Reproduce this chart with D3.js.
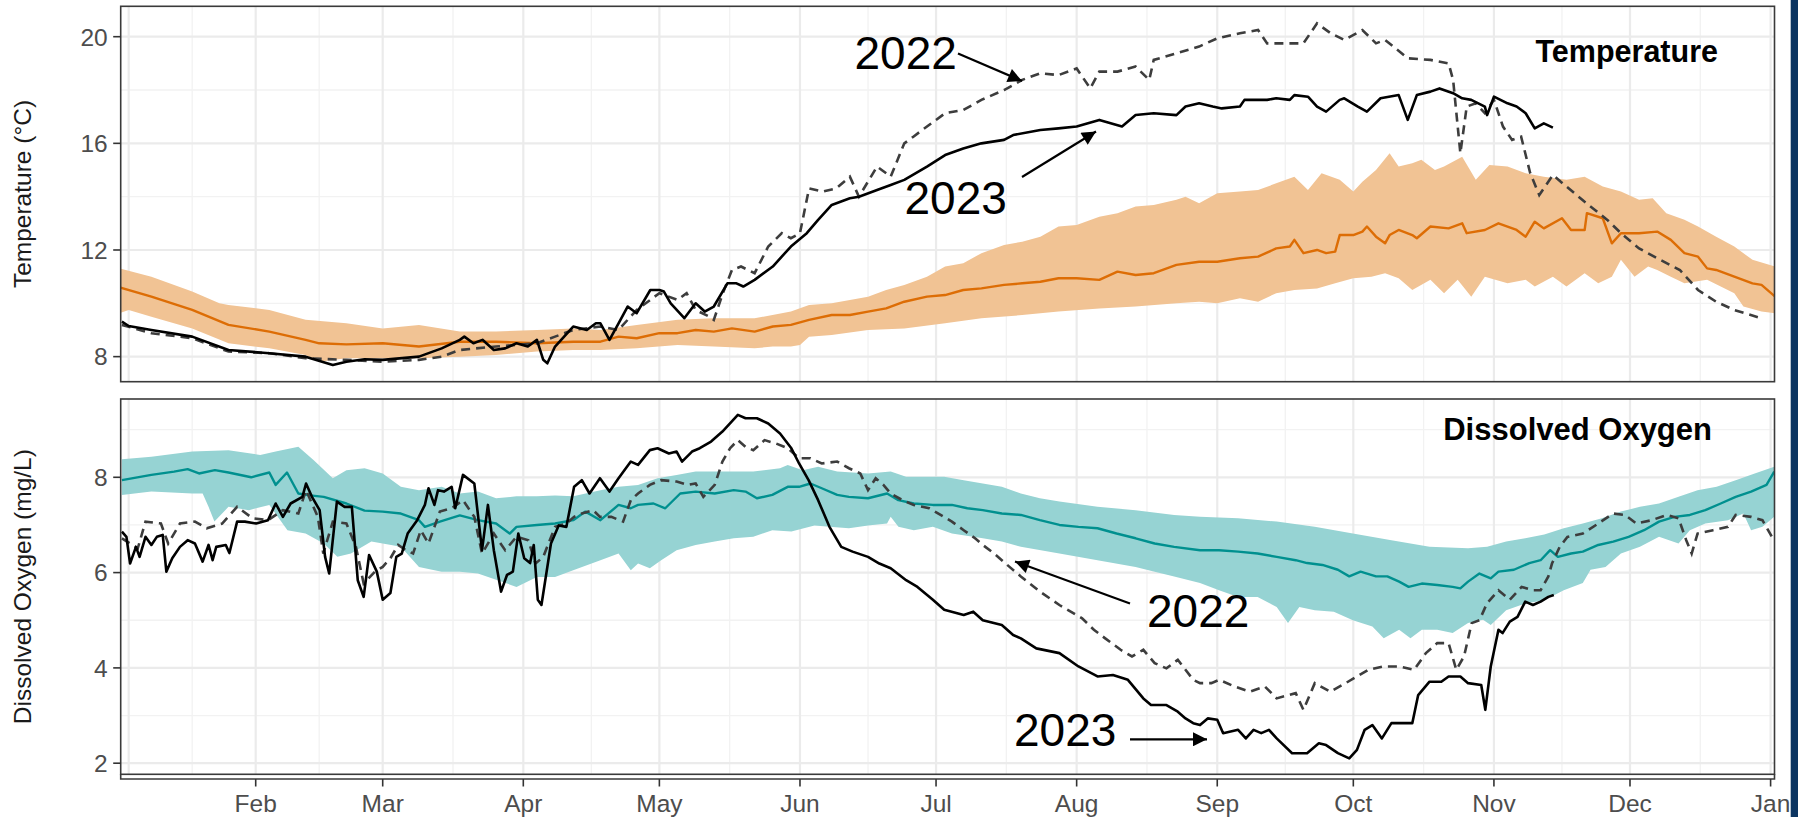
<!DOCTYPE html>
<html>
<head>
<meta charset="utf-8">
<script src="https://cdn.jsdelivr.net/npm/d3@7"></script>
<style>
  body { margin: 0; background: #fff; }
  svg { display: block; font-family: "Liberation Sans", Arial, sans-serif; }
</style>
</head>
<body>
<svg id="chart" width="1798" height="817"></svg>
<script>
// day of year (0 = 1 Jan) and value pairs

var tempMean = [[1,10.6],[8,10.25],[17,9.75],[25,9.19],[34,8.94],[42,8.63],[45,8.5],[51,8.46],[59,8.5],[67,8.38],[76,8.56],[84,8.56],[93,8.5],[101,8.56],
  [107,8.56],[111,8.75],[115,8.69],[120,8.88],[124,8.88],[128,9.0],[132,8.94],[136,9.06],[141,8.94],[145,9.13],[149,9.19],[153,9.38],[158,9.56],[162,9.56],[166,9.69],[170,9.81],[174,10.06],[179,10.25],[183,10.31],[187,10.5],[191,10.56],[196,10.69],[200,10.75],[204,10.81],[208,10.94],[212,10.94],[217,10.88],[221,11.19],[225,11.06],[229,11.13],[234,11.44],[239,11.56],
  [243,11.56],[248,11.69],[252,11.75],[256,12.06],[259,12.13],[260,12.38],[262,11.88],[265,12.0],[267,11.88],[269,11.94],[270,12.56],[273,12.56],[275,12.69],[276,12.88],[278,12.5],[280,12.25],[281,12.56],[283,12.75],[286,12.56],[287,12.44],[290,12.88],[294,12.81],[297,13.0],[298,12.63],[302,12.75],[305,13.0],[307,12.88],[309,12.75],[311,12.5],[313,13.06],[315,12.81],[319,13.19],[321,12.75],[324,12.75],[324.5,13.38],[328,13.19],[330,12.25],[332,12.63],[336,12.63],[340,12.69],[343,12.38],[346,11.88],[349,11.75],[351,11.31],[353,11.25],[357,11.0],[361,10.75],[363,10.69],[366,10.25]];

var tempUpper = [[1,11.31],[8,11.0],[17,10.44],[23,10.0],[25,9.94],[34,9.75],[42,9.38],[51,9.25],[59,9.06],[67,9.19],[76,8.94],[84,8.94],[93,9.0],[101,9.06],
  [107,9.0],[115,9.19],[124,9.38],[132,9.44],[141,9.44],[149,9.69],[153,9.94],[158,10.0],[166,10.25],[170,10.5],[174,10.69],[179,11.0],[183,11.38],[187,11.5],[191,11.88],[196,12.19],[200,12.31],[204,12.5],[208,12.88],[212,12.94],[217,13.25],[221,13.38],[225,13.63],[229,13.69],[234,13.88],[236,14.0],[239,13.75],
  [243,14.13],[248,14.19],[252,14.25],[256,14.5],[260,14.75],[263,14.25],[266,14.88],[270,14.63],[273,14.19],[275,14.56],[278,15.0],[281,15.63],[283,15.13],[286,15.25],[288,15.38],[291,15.0],[293,15.13],[297,15.5],[300,14.63],[303,15.19],[307,15.13],[311,14.88],[315,14.75],[320,14.63],[324,14.75],[328,14.38],[332,14.19],[336,13.88],[339,13.94],[342,13.38],[346,13.13],[349,12.88],[353,12.5],[357,12.13],[361,11.63],[366,11.38]];

var tempLower = [[1,9.63],[3,9.75],[8,9.5],[17,9.06],[25,8.5],[34,8.31],[42,8.06],[45,7.81],[51,7.94],[59,7.94],[67,7.94],[76,8.0],[84,8.06],[93,8.19],[101,8.25],
  [107,8.25],[115,8.31],[124,8.44],[132,8.38],[141,8.31],[145,8.38],[149,8.38],[151,8.44],[153,8.75],[158,8.81],[166,9.0],[174,9.06],[183,9.25],[191,9.44],[200,9.56],[208,9.69],[217,9.81],[225,9.88],[234,10.0],[239,10.06],
  [243,10.0],[248,10.19],[252,10.06],[256,10.38],[260,10.5],[265,10.56],[269,10.75],[273,10.94],[277,11.0],[280,11.13],[283,10.94],[286,10.5],[290,10.88],[293,10.38],[296,10.88],[299,10.25],[302,11.0],[307,10.75],[311,10.88],[313,10.63],[317,11.0],[320,10.63],[324,11.13],[327,10.75],[330,11.0],[332,11.63],[335,11.0],[338,11.38],[340,11.25],[343,11.0],[346,10.75],[351,10.88],[354,10.63],[357,10.38],[359,9.88],[363,9.69],[366,9.63]];

var temp2023 = [[1.5,9.31],[3,9.15],[8,9.0],[17,8.75],[25,8.25],[34,8.13],[42,8.0],[48,7.69],[51,7.81],[55,7.9],[59,7.88],[67,8.0],[72,8.31],[76,8.63],[77,8.75],[79,8.5],[81,8.63],[83.5,8.25],[86,8.31],[88.5,8.5],[91,8.38],[93,8.63],[94.4,7.88],[95.3,7.75],[97,8.38],[101,9.13],[104,9.0],[106,9.25],
  [107,9.25],[109,8.63],[111,9.25],[113,9.88],[115,9.63],[118,10.5],[120,10.5],[121,10.44],[122.5,10.0],[125.5,9.44],[128,10.0],[130,9.69],[132,9.88],[135,10.75],[137,10.75],[138.5,10.63],[141,10.88],[145,11.38],[149,12.13],[152.5,12.63],[155,13.13],[158,13.69],[162,13.94],[164,14.0],[168,14.25],[171,14.44],[174,14.63],[179,15.13],[183,15.56],[187,15.81],[191,16.0],[196,16.13],[198,16.31],[204,16.5],[208,16.56],[212,16.63],[217,16.88],[222,16.63],[225,17.06],[229,17.13],[234,17.06],[236,17.38],[239,17.5],
  [242,17.38],[244,17.31],[248,17.38],[249,17.63],[254,17.63],[256,17.69],[259,17.63],[260,17.81],[263,17.75],[265,17.38],[267,17.19],[270,17.63],[271,17.69],[274,17.38],[276,17.19],[279,17.69],[283,17.81],[285,16.88],[287,17.81],[290,17.94],[292,18.06],[295,17.88],[297,17.69],[299,17.63],[302,17.38],[302.5,17.06],[304,17.75],[307,17.5],[309,17.38],[311,17.13],[313,16.56],[315,16.75],[317,16.59]];

var temp2022 = [[1.5,9.19],[8,8.88],[17,8.69],[25,8.19],[34,8.13],[42,7.94],[51,7.88],[59,7.81],[67,7.88],[72,8.0],[76,8.25],[84,8.38],[93,8.5],[97,8.75],[101,9.0],[107,9.13],
  [111,9.0],[113,9.38],[115,9.75],[120,10.38],[124,10.13],[126,10.38],[128,9.75],[131,9.5],[132,9.38],[134,10.38],[136,11.25],[138,11.38],[141,11.13],[144,12.13],[147,12.63],[149,12.44],[151,12.63],[153,14.31],[156,14.19],[159,14.31],[162,14.75],[164,14.0],[168,15.13],[171,14.75],[174,16.0],[176,16.25],[179,16.63],[183,17.13],[187,17.25],[191,17.63],[196,18.0],[200,18.38],[204,18.63],[208,18.56],[212,18.81],[215,18.06],[217,18.69],[221,18.69],[225,18.88],[228,18.38],[229,19.13],[234,19.38],[239,19.63],
  [243,19.94],[248,20.13],[252,20.25],[254,19.75],[258,19.75],[262,19.75],[265,20.5],[268,20.13],[271,19.88],[275,20.25],[278,19.75],[280,19.88],[285,19.19],[290,19.13],[294,19.0],[295,18.38],[296.6,15.63],[298,17.38],[300,17.5],[302,17.13],[304,17.63],[306,16.63],[308,16.13],[310,16.25],[312,14.88],[314,14.06],[317,14.81],[320,14.38],[324,13.81],[329,13.13],[332,12.63],[336,12.06],[340,11.69],[345,11.25],[349,10.5],[353,10.06],[357,9.75],[363,9.44]];

var doMean = [[1.5,7.94],[8,8.05],[13,8.12],[16,8.17],[18.5,8.08],[22,8.15],[25,8.1],[30,8.0],[34,8.1],[35.4,7.84],[37.9,8.1],[40.4,7.66],[43,7.62],[46,7.59],[51,7.45],[55,7.3],[59,7.28],[63,7.24],[67,7.1],[68.3,6.96],[71.6,7.07],[76,7.2],[80,7.1],[84,7.03],[87,6.82],[88.5,6.96],[93,7.0],[97,7.03],[101,7.1],[103.7,7.28],
  [107,7.1],[111,7.42],[113.7,7.35],[115.3,7.42],[118.7,7.45],[121.3,7.35],[124.6,7.66],[128,7.7],[132.2,7.66],[136.4,7.73],[139,7.7],[141.5,7.56],[144.9,7.63],[148.3,7.8],[150.8,7.8],[153.3,7.87],[155.8,7.77],[159.2,7.63],[161.8,7.59],[166,7.56],[170.2,7.66],[172.7,7.52],[176.1,7.45],[180.3,7.42],[184.5,7.42],[187.9,7.35],[191.3,7.31],[195.5,7.24],[199.7,7.21],[203.9,7.1],[208.2,7.0],[212.4,6.96],[216.6,6.93],[220.8,6.82],[225,6.72],[229.2,6.61],[233.5,6.54],[239.2,6.47],
  [243.4,6.47],[247.6,6.44],[251.9,6.4],[256.1,6.33],[260.3,6.26],[262.8,6.2],[266.2,6.16],[269.6,6.06],[272.1,5.92],[274.6,6.02],[278,5.92],[280.5,5.92],[283.1,5.81],[285.2,5.7],[288.1,5.77],[291.5,5.74],[294.9,5.7],[296.6,5.67],[298.3,5.81],[300.8,5.98],[303.3,5.88],[305,6.02],[308.4,6.06],[311.8,6.2],[314.3,6.26],[316.4,6.47],[318.1,6.33],[321,6.4],[323.6,6.44],[327,6.58],[330.3,6.65],[333.7,6.75],[337.1,6.89],[340.4,7.07],[343.8,7.17],[347.2,7.21],[350.6,7.31],[354,7.45],[357.3,7.59],[360.7,7.7],[364.1,7.84],[365.8,8.12]];

var doUpper = [[1.5,8.38],[8,8.43],[17,8.54],[25,8.57],[32,8.47],[35.4,8.54],[40.4,8.64],[43.8,8.36],[48,7.98],[51,8.15],[55,8.19],[59,8.08],[63,7.8],[67,7.73],[72,7.8],[76,7.66],[80,7.7],[84,7.56],[88.5,7.6],[93,7.6],[97,7.62],[101,7.6],
  [107,7.73],[111,7.8],[115.3,7.84],[119.6,7.98],[123.8,8.05],[128,8.12],[132.2,8.12],[140.7,8.12],[146.6,8.19],[148.3,8.26],[151.6,8.15],[155,8.22],[159.2,8.12],[166,8.08],[171,8.12],[174.4,8.01],[182.8,8.01],[187.1,7.94],[191.3,7.87],[195.5,7.8],[199.7,7.66],[203.9,7.56],[208.2,7.49],[216.6,7.38],[225,7.31],[233.5,7.21],[239.2,7.17],
  [247.6,7.14],[256.1,7.07],[264.5,6.96],[272.9,6.82],[281.4,6.68],[289.8,6.54],[298.3,6.51],[302.5,6.54],[306.7,6.65],[310.9,6.72],[315.1,6.8],[319.4,6.93],[323.6,7.03],[327.8,7.14],[332,7.28],[336.2,7.38],[340.4,7.45],[344.7,7.59],[348.9,7.73],[353.1,7.8],[357.3,7.94],[361.5,8.08],[365.8,8.22]];

var doLower = [[1.5,7.63],[8,7.7],[17,7.66],[19.3,7.66],[20.6,7.38],[21.9,7.07],[25,7.38],[29.5,7.31],[34,7.42],[38,6.89],[42,6.82],[46,6.61],[49,6.33],[52,6.4],[56.5,6.65],[59,6.61],[63,6.54],[67,6.12],[72,6.02],[76,6.02],[80,5.98],[84,5.85],[88.5,5.7],[93,5.91],[97,5.91],[101,6.05],
  [107,6.26],[111,6.4],[113.7,6.05],[115.3,6.19],[117.9,6.09],[120.4,6.26],[123.8,6.47],[128,6.58],[132.2,6.65],[136.4,6.72],[140.7,6.75],[144.9,6.89],[149.1,6.86],[154.2,6.99],[157.5,6.96],[161.8,6.93],[166,6.99],[170.2,7.03],[171,7.17],[172.7,6.96],[176.1,6.89],[180.3,6.96],[184.5,6.82],[191.3,6.72],[195.5,6.65],[199.7,6.54],[208.2,6.4],[216.6,6.26],[225,6.12],[229.2,6.02],[233.5,5.92],[239.2,5.78],
  [243.4,5.63],[247.6,5.49],[251.9,5.49],[256.1,5.28],[258.6,4.94],[261.1,5.28],[264.5,5.21],[268.7,5.18],[272.9,5.0],[277.2,4.87],[279.7,4.62],[283.1,4.8],[285.6,4.62],[288.1,4.8],[291.5,4.8],[294.9,4.73],[298.3,4.94],[301.6,5.01],[303.3,4.9],[306.7,5.21],[310.9,5.35],[315.1,5.42],[319.4,5.63],[323.6,5.78],[325.3,6.06],[328.6,6.12],[332,6.4],[336.2,6.54],[340.4,6.75],[344.7,6.61],[347.2,6.89],[350.6,7.03],[355.6,7.1],[359,7.24],[360.7,6.89],[363.2,6.96],[365.8,7.17]];

var do2023 = [[1.5,6.86],[2.5,6.75],[3.3,6.19],[4.6,6.54],[5.4,6.33],[6.7,6.75],[8,6.58],[9.2,6.75],[10.5,6.79],[11.3,6.02],[12.6,6.3],[14.3,6.54],[16,6.68],[17.6,6.61],[19.3,6.23],[20.6,6.58],[21.5,6.26],[22.3,6.54],[24.4,6.58],[25.2,6.41],[26.9,7.07],[28.6,7.07],[31.1,7.03],[33.7,7.1],[35.4,7.45],[37,7.17],[38.7,7.45],[41.3,7.59],[42.1,7.87],[43.4,7.59],[45.1,7.31],[46.3,6.33],[47.2,5.98],[48.9,7.49],[50.6,7.38],[52.2,7.38],[53.5,5.84],[54.8,5.49],[56,6.37],[57.7,6.02],[59,5.43],[60.7,5.57],[62,6.33],[63.2,6.4],[64.5,6.82],[66.6,7.1],[68.3,7.42],[69.1,7.77],[70.4,7.42],[71.2,7.73],[72.5,7.7],[74.2,7.8],[75,7.35],[76.7,8.05],[79.2,7.87],[80.9,6.47],[82.2,7.42],[83.5,6.47],[85.1,5.6],[86.4,5.95],[87.7,6.02],[88.9,6.82],[90.2,6.3],[91.5,6.2],[92.3,6.58],[93.2,5.43],[94,5.32],[96.1,6.61],[97.8,6.99],[99.5,6.96],[101.2,7.8],[102.9,7.94],[104.6,7.66],[106.9,7.98],
  [109,7.7],[111,7.98],[113.7,8.33],[115.3,8.26],[117.9,8.57],[119.6,8.61],[122.1,8.5],[123.8,8.54],[125,8.33],[127.2,8.54],[128.9,8.61],[131.4,8.75],[133.9,8.96],[137.3,9.31],[139,9.24],[141.5,9.24],[144,9.13],[146.6,8.92],[149.1,8.61],[150.8,8.29],[152.9,7.94],[155,7.52],[157.5,6.96],[160.1,6.54],[162.6,6.44],[166,6.33],[168.5,6.19],[171,6.09],[174.4,5.84],[176.9,5.7],[180.3,5.43],[182.8,5.22],[187.1,5.11],[189.2,5.18],[191.3,5.0],[195.5,4.9],[198,4.69],[199.7,4.62],[203.1,4.41],[208.2,4.31],[212.4,4.03],[216.6,3.82],[220,3.85],[223.3,3.75],[226.7,3.36],[228.4,3.22],[231.8,3.22],[234.3,3.08],[236,2.94],[237.7,2.84],[239.2,2.8],
  [240.9,2.94],[243,2.91],[244.3,2.63],[247.6,2.7],[249.3,2.52],[251,2.7],[252.7,2.63],[254.4,2.7],[256.1,2.52],[259.5,2.21],[262.8,2.21],[265.4,2.42],[267,2.38],[269.6,2.21],[272.1,2.1],[273.8,2.28],[275.5,2.7],[277.2,2.8],[279.3,2.52],[281.4,2.84],[283.9,2.84],[286,2.84],[287.3,3.43],[289.8,3.71],[292.4,3.71],[294,3.82],[296.6,3.82],[298.3,3.68],[301.2,3.64],[302.1,3.12],[303.3,4.03],[305,4.8],[305.9,4.73],[307.5,4.97],[309.2,5.07],[310.9,5.39],[312.6,5.32],[314.3,5.39],[316,5.49],[317.2,5.53]];

var do2022 = [[1.5,6.72],[5,6.51],[6.7,7.07],[10.1,7.03],[11.7,6.61],[14.3,7.03],[17.6,7.07],[20.2,6.93],[23.6,7.03],[26.9,7.38],[30.3,7.14],[33.7,7.1],[37,7.31],[40.4,7.24],[42.1,7.73],[44.7,7.17],[45.9,6.4],[48,7.07],[51,7.03],[53.1,6.54],[54.8,5.77],[57.3,6.02],[59,6.12],[60.7,6.3],[62.4,6.58],[64.1,6.47],[65.7,6.4],[67.4,6.89],[69.1,6.61],[71.6,7.28],[74.2,7.35],[76.7,7.52],[79.2,7.17],[80.9,6.4],[83.5,6.82],[86,6.47],[88.5,6.75],[91.1,6.68],[92.7,6.19],[94.4,6.33],[97,6.96],[99.5,7.03],[101.2,7.17],[102.9,7.24],[105.4,7.31],[106.9,7.17],
  [109.4,7.17],[112,7.07],[113.7,7.52],[115.3,7.66],[117.9,7.84],[120.4,7.94],[123.8,7.91],[126.3,7.84],[128,7.87],[129.7,7.59],[132.2,7.84],[133.9,8.33],[135.6,8.61],[137.3,8.78],[139,8.64],[140.7,8.57],[143.2,8.78],[145.7,8.71],[148.3,8.61],[150.8,8.4],[153.3,8.4],[155.8,8.29],[159.2,8.33],[161.8,8.19],[164.3,8.08],[166,7.73],[167.7,7.98],[169.4,7.84],[171,7.66],[173.6,7.52],[176.1,7.42],[179.5,7.35],[182,7.21],[184.5,7.07],[187.1,6.89],[189.6,6.72],[191.3,6.58],[193.8,6.4],[197.2,6.12],[199.7,5.92],[203.9,5.6],[208.2,5.32],[213.2,5.04],[215.8,4.8],[218.3,4.62],[221.7,4.38],[224.2,4.24],[226.7,4.38],[229.2,4.1],[231.8,3.99],[234.3,4.17],[237.7,3.75],[239.2,3.68],
  [241.7,3.68],[243.4,3.75],[246.8,3.61],[250.2,3.5],[253.5,3.61],[256.1,3.36],[260.3,3.47],[262,3.12],[264.5,3.68],[267.9,3.5],[271.3,3.68],[273.8,3.82],[276.3,3.96],[279.7,4.03],[283.1,4.03],[286.4,3.96],[289,4.31],[291.5,4.52],[294,4.52],[295.7,3.96],[297.4,4.24],[299.1,4.94],[300.8,5.0],[302.5,5.36],[305,5.63],[307.5,5.43],[310.1,5.7],[312.6,5.63],[314.3,5.63],[316,5.92],[316.8,6.19],[318.5,6.54],[320.2,6.75],[323.6,6.82],[327,7.03],[330.3,7.24],[332.9,7.21],[335.4,7.03],[338.8,7.1],[342.1,7.21],[344.7,7.14],[346.4,6.68],[347.6,6.4],[348.9,6.82],[352.3,6.89],[355.6,6.96],[357.3,7.21],[360.7,7.17],[363.2,7.1],[365.3,6.75]];

var tempTicks = [8, 12, 16, 20];
var tempMinor = [10, 14, 18];
var doTicks = [2, 4, 6, 8];
var doMinor = [3, 5, 7, 9];
var monthLabels = ['Feb','Mar','Apr','May','Jun','Jul','Aug','Sep','Oct','Nov','Dec','Jan'];
var firstBreakDay = 3;   // unlabelled break near the left edge

(function() {

  var svg = d3.select('#chart');
  var t0 = Date.UTC(2023, 0, 1);
  function toDate(day) { return new Date(t0 + day * 864e5); }

  var plotLeft = 120.7, plotRight = 1774.5,
      axisLineY = 779,
      tickFont = 24.5, titleFont = 24.5;

  var x = d3.scaleUtc()
    .domain([toDate(0), toDate(365)])
    .range([115.1, 1770.6]);

  var monthBreaks = d3.utcMonth.range(toDate(31), toDate(366));
  var majorBreaks = [toDate(firstBreakDay)].concat(monthBreaks);
  var minorBreaks = [];
  for (var i = 1; i < majorBreaks.length; i++) {
    minorBreaks.push((x(majorBreaks[i - 1]) + x(majorBreaks[i])) / 2);
  }

  var panels = [
    { top: 6.3, bottom: 381.7, domain: [7.06, 21.14], ticks: tempTicks, minor: tempMinor,
      mean: tempMean, upper: tempUpper, lower: tempLower, y2023: temp2023, y2022: temp2022,
      fill: '#f1c394', line: '#dd6d05', title: 'Temperature', titleX: 1718, titleY: 61.5, titleSize: 30.5,
      ylab: 'Temperature (°C)' },
    { top: 399, bottom: 774.3, domain: [1.767, 9.643], ticks: doTicks, minor: doMinor,
      mean: doMean, upper: doUpper, lower: doLower, y2023: do2023, y2022: do2022,
      fill: '#96d3d3', line: '#00908f', title: 'Dissolved Oxygen', titleX: 1712, titleY: 440, titleSize: 31,
      ylab: 'Dissolved Oxygen (mg/L)' }
  ];

  var defs = svg.append('defs');
  defs.append('marker')
    .attr('id', 'arrow')
    .attr('viewBox', '0 0 10 10')
    .attr('refX', 10).attr('refY', 5)
    .attr('markerUnits', 'userSpaceOnUse')
    .attr('markerWidth', 17).attr('markerHeight', 14)
    .attr('orient', 'auto')
    .append('path').attr('d', 'M0,0 L10,5 L0,10 Z').attr('fill', '#000');

  panels.forEach(function(p, k) {

    var y = d3.scaleLinear().domain(p.domain).range([p.bottom, p.top]);

    defs.append('clipPath').attr('id', 'clip' + k)
      .append('rect')
      .attr('x', plotLeft).attr('y', p.top)
      .attr('width', plotRight - plotLeft).attr('height', p.bottom - p.top);

    var g = svg.append('g');
    var inner = g.append('g').attr('clip-path', 'url(#clip' + k + ')');

    // grid
    inner.selectAll('.hminor').data(p.minor).enter().append('line')
      .attr('x1', plotLeft).attr('x2', plotRight)
      .attr('y1', function(d) { return y(d); }).attr('y2', function(d) { return y(d); })
      .attr('stroke', '#f2f2f2').attr('stroke-width', 1.3);
    inner.selectAll('.vminor').data(minorBreaks).enter().append('line')
      .attr('x1', function(d) { return d; }).attr('x2', function(d) { return d; })
      .attr('y1', p.top).attr('y2', p.bottom)
      .attr('stroke', '#f2f2f2').attr('stroke-width', 1.3);
    inner.selectAll('.hmajor').data(p.ticks).enter().append('line')
      .attr('x1', plotLeft).attr('x2', plotRight)
      .attr('y1', function(d) { return y(d); }).attr('y2', function(d) { return y(d); })
      .attr('stroke', '#ebebeb').attr('stroke-width', 2.2);
    inner.selectAll('.vmajor').data(majorBreaks).enter().append('line')
      .attr('x1', function(d) { return x(d); }).attr('x2', function(d) { return x(d); })
      .attr('y1', p.top).attr('y2', p.bottom)
      .attr('stroke', '#ebebeb').attr('stroke-width', 2.2);

    var line = d3.line()
      .x(function(d) { return x(toDate(d[0])); })
      .y(function(d) { return y(d[1]); });

    // ribbon: upper edge forward, lower edge back
    var ribbon = p.upper.concat(p.lower.slice().reverse());
    inner.append('path')
      .attr('d', line(ribbon) + 'Z')
      .attr('fill', p.fill).attr('stroke', 'none');

    inner.append('path')
      .attr('d', line(p.mean))
      .attr('fill', 'none').attr('stroke', p.line).attr('stroke-width', 2.4)
      .attr('stroke-linejoin', 'round');

    inner.append('path')
      .attr('d', line(p.y2022))
      .attr('fill', 'none').attr('stroke', '#3d3d3d').attr('stroke-width', 2.6)
      .attr('stroke-dasharray', '9,6');

    inner.append('path')
      .attr('d', line(p.y2023))
      .attr('fill', 'none').attr('stroke', '#000').attr('stroke-width', 2.6)
      .attr('stroke-linejoin', 'round');

    // border
    g.append('rect')
      .attr('x', plotLeft).attr('y', p.top)
      .attr('width', plotRight - plotLeft).attr('height', p.bottom - p.top)
      .attr('fill', 'none').attr('stroke', '#3a3a3a').attr('stroke-width', 1.6);

    // y axis
    g.selectAll('.ytick').data(p.ticks).enter().append('line')
      .attr('x1', plotLeft - 7.5).attr('x2', plotLeft)
      .attr('y1', function(d) { return y(d); }).attr('y2', function(d) { return y(d); })
      .attr('stroke', '#333').attr('stroke-width', 1.6);
    g.selectAll('.ylab').data(p.ticks).enter().append('text')
      .attr('x', plotLeft - 13).attr('y', function(d) { return y(d); })
      .attr('dy', '0.36em')
      .attr('text-anchor', 'end')
      .attr('font-size', tickFont).attr('fill', '#4d4d4d')
      .text(function(d) { return d; });

    g.append('text')
      .attr('transform', 'translate(30.5,' + ((p.top + p.bottom) / 2) + ') rotate(-90)')
      .attr('text-anchor', 'middle')
      .attr('font-size', titleFont).attr('fill', '#1a1a1a')
      .text(p.ylab);

    g.append('text')
      .attr('x', p.titleX).attr('y', p.titleY)
      .attr('text-anchor', 'end')
      .attr('font-size', p.titleSize).attr('font-weight', 'bold').attr('fill', '#000')
      .text(p.title);
  });

  // x axis under the lower panel
  var xa = svg.append('g');
  xa.append('path')
    .attr('d', 'M' + plotLeft + ',774.3V' + axisLineY + 'H' + plotRight + 'V774.3')
    .attr('fill', 'none').attr('stroke', '#3a3a3a').attr('stroke-width', 1.6);
  xa.selectAll('.xtick').data(monthBreaks).enter().append('line')
    .attr('x1', function(d) { return x(d); }).attr('x2', function(d) { return x(d); })
    .attr('y1', axisLineY).attr('y2', axisLineY + 7.5)
    .attr('stroke', '#333').attr('stroke-width', 1.6);
  xa.selectAll('.xlab').data(monthBreaks).enter().append('text')
    .attr('x', function(d) { return x(d); }).attr('y', 812)
    .attr('text-anchor', 'middle')
    .attr('font-size', tickFont).attr('fill', '#4d4d4d')
    .text(function(d, i) { return monthLabels[i]; });

  // annotations
  var notes = [
    { text: '2022', x: 854.5, y: 69.3, from: [958, 53.5], to: [1022, 81] },
    { text: '2023', x: 904.5, y: 214, from: [1022, 177], to: [1096, 131.5] },
    { text: '2022', x: 1147, y: 627.3, from: [1130, 603.5], to: [1015, 561.5] },
    { text: '2023', x: 1014, y: 745.7, from: [1130, 739.3], to: [1207, 739.3] }
  ];
  var an = svg.append('g');
  an.selectAll('text').data(notes).enter().append('text')
    .attr('x', function(d) { return d.x; }).attr('y', function(d) { return d.y; })
    .attr('font-size', 46).attr('fill', '#000')
    .text(function(d) { return d.text; });
  an.selectAll('line').data(notes).enter().append('line')
    .attr('x1', function(d) { return d.from[0]; }).attr('y1', function(d) { return d.from[1]; })
    .attr('x2', function(d) { return d.to[0]; }).attr('y2', function(d) { return d.to[1]; })
    .attr('stroke', '#000').attr('stroke-width', 2.2)
    .attr('marker-end', 'url(#arrow)');

  // dark strip on the right edge
  svg.append('rect')
    .attr('x', 1790.7).attr('y', 0).attr('width', 7.3).attr('height', 817)
    .attr('fill', '#0c3561');

})();
</script>
</body>
</html>
